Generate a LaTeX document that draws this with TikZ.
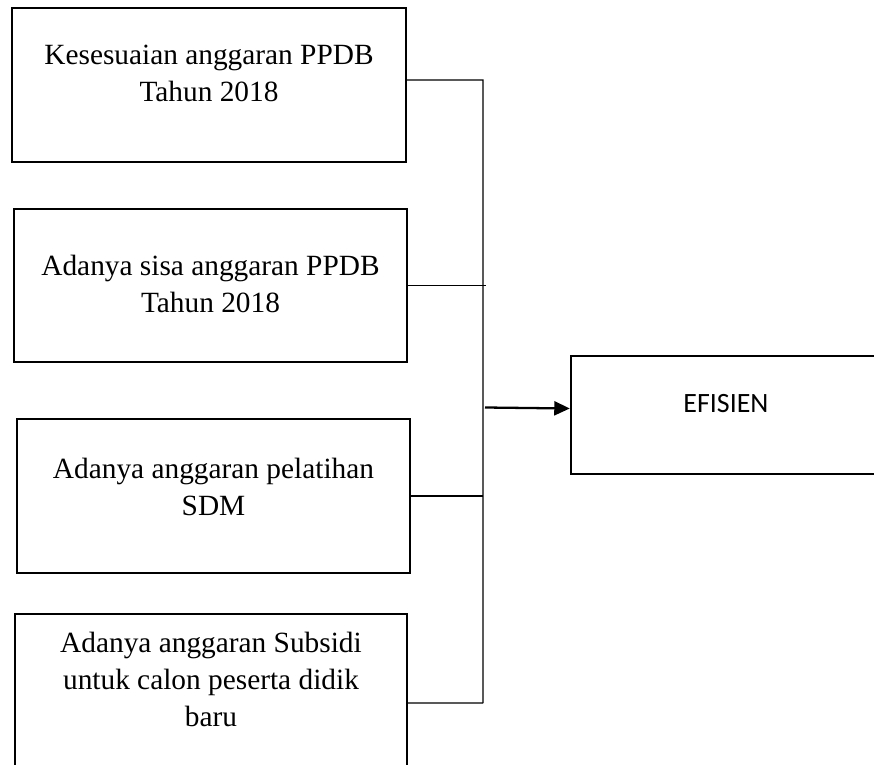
\documentclass[tikz,border=0pt]{standalone}
\usepackage{fontspec}
\setmainfont{Liberation Serif}
\newfontfamily\calibrifont{Carlito}
\usetikzlibrary{arrows.meta}

\begin{document}
\begin{tikzpicture}[
    faktor/.style={draw, line width=1.4pt, inner sep=0pt},
    teks/.style={anchor=north, inner sep=0pt, align=center,
        font=\fontsize{16.7}{21}\selectfont},
    garis/.style={line width=0.7pt}
  ]
    \clip (0,0) rectangle (17.48,-15.30);

    % kotak faktor
    \node[faktor, minimum width=7.88cm, minimum height=3.08cm] (b1) at (4.18,-1.70) {};
    \node[faktor, minimum width=7.86cm, minimum height=3.06cm] (b2) at (4.21,-5.71) {};
    \node[faktor, minimum width=7.86cm, minimum height=3.08cm] (b3) at (4.27,-9.92) {};
    \node[faktor, minimum width=7.84cm, minimum height=3.12cm] (b4) at (4.22,-13.84) {};
    \node[faktor, minimum width=6.20cm, minimum height=2.36cm] (ef) at (14.52,-8.30) {};

    \node[teks] (t1) at (4.18,-0.90) {Kesesuaian anggaran PPDB\\Tahun 2018};
    \node[teks] (t2) at (4.21,-5.10) {Adanya sisa anggaran PPDB\\Tahun 2018};
    \node[teks] (t3) at (4.27,-9.16) {Adanya anggaran pelatihan\\SDM};
    \node[teks] (t4) at (4.22,-12.64) {Adanya anggaran Subsidi\\untuk calon peserta didik\\baru};
    \node[font=\calibrifont\fontsize{15.9}{19}\selectfont, inner sep=0pt] (t5) at (14.52,-8.08) {EFISIEN};

    % garis penghubung
    \coordinate (j1) at (9.66,-1.60);
    \coordinate (j2) at (9.72,-5.71);
    \coordinate (j3) at (9.66,-9.92);
    \coordinate (j4) at (9.66,-14.06);
    \coordinate (ja) at (9.70,-8.15);

    \draw[garis] ([yshift=1mm]b1.east) -- (j1) -- (j4);
    \draw[garis] (b2.east) -- (j2);
    \draw[garis] (b3.east) -- (j3);
    \draw[garis] ([yshift=-2.2mm]b4.east) -- (j4);
    \draw[line width=1.3pt, -{Triangle[length=3.1mm, width=2.8mm]}]
            (ja) -- ([yshift=1.3mm]ef.west);
\end{tikzpicture}
\end{document}
